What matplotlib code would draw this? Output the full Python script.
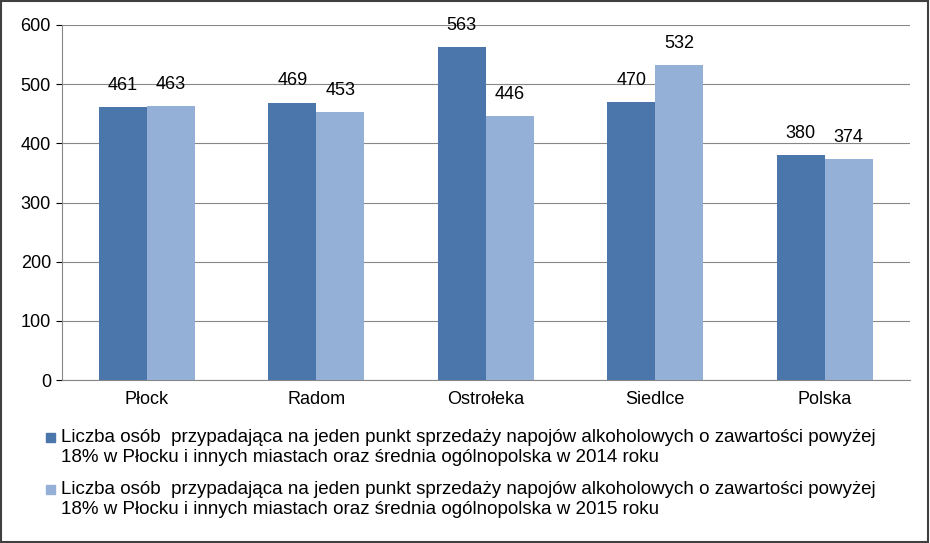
import matplotlib
matplotlib.use("Agg")
import matplotlib.pyplot as plt
from matplotlib.patches import Rectangle
import numpy as np

cities = ["Płock", "Radom", "Ostrołeka", "Siedlce", "Polska"]
v2014 = [461, 469, 563, 470, 380]
v2015 = [463, 453, 446, 532, 374]
labels = [
    "Liczba osób  przypadająca na jeden punkt sprzedaży napojów alkoholowych o zawartości powyżej\n"
    "18% w Płocku i innych miastach oraz średnia ogólnopolska w 2014 roku",
    "Liczba osób  przypadająca na jeden punkt sprzedaży napojów alkoholowych o zawartości powyżej\n"
    "18% w Płocku i innych miastach oraz średnia ogólnopolska w 2015 roku",
]
c1, c2 = "#4a76ab", "#95b0d6"

plt.rcParams["font.family"] = "Liberation Sans"
fig = plt.figure(figsize=(9.3, 5.43), dpi=100)
fig.patches.append(Rectangle((0.001, 0.001), 0.997, 0.997, transform=fig.transFigure,
                             fill=False, edgecolor="#404040", linewidth=1.5))
ax = fig.add_axes([0.0667, 0.300, 0.9113, 0.654])
x = np.arange(len(cities))
w = 0.283
b1 = ax.bar(x - w / 2, v2014, w, color=c1, zorder=3)
b2 = ax.bar(x + w / 2, v2015, w, color=c2, zorder=3)
for bars in (b1, b2):
    for r in bars:
        ax.text(r.get_x() + r.get_width() / 2, r.get_height() + 22, str(int(r.get_height())),
                ha="center", va="bottom", fontsize=13)
ax.set_xlim(-0.5, len(cities) - 0.5)
ax.set_ylim(0, 600)
ax.set_yticks(range(0, 601, 100))
ax.set_xticks(x)
ax.set_xticklabels(cities)
ax.tick_params(labelsize=13, length=0, pad=8)
ax.tick_params(axis="y", length=4, direction="out", pad=4)
ax.grid(axis="y", color="#878787", linewidth=0.8, zorder=0)
for s in ["top", "right"]:
    ax.spines[s].set_visible(False)
ax.spines["left"].set_color("#878787")
ax.spines["bottom"].set_color("#878787")

for i, (lab, c) in enumerate(zip(labels, [c1, c2])):
    ytop = 1 - (431 + i * 52) / 543
    fig.patches.append(Rectangle((46 / 930, ytop - 11 / 543), 9 / 930, 9 / 543,
                                 transform=fig.transFigure, color=c))
    fig.text(61 / 930, ytop + 2 / 543, lab, fontsize=13.5, va="top", ha="left", linespacing=1.25)

fig.savefig("out.png", dpi=100)
